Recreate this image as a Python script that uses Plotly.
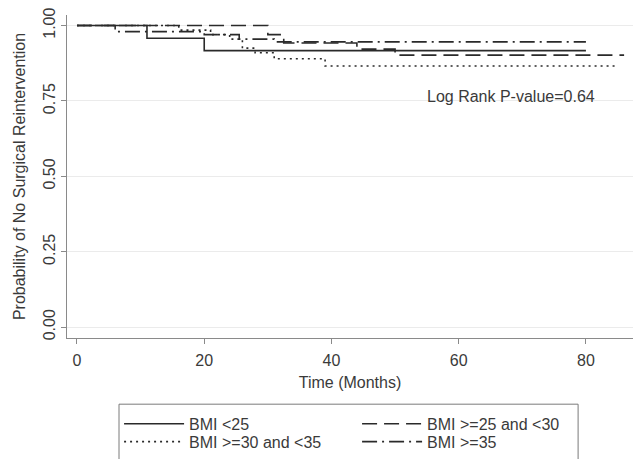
import plotly.graph_objects as go

# ---- data ----
series_names = ["BMI <25", "BMI >=25 and <30", "BMI >=30 and <35", "BMI >=35"]

t_lt25 = [0, 11, 20, 80]
s_lt25 = [1.0, 0.958, 0.917, 0.917]

t_25_30 = [0, 30, 32.5, 44, 50, 86]
s_25_30 = [1.0, 0.97, 0.942, 0.922, 0.902, 0.902]

t_30_35 = [0, 16, 21, 24, 26, 28, 31, 39, 85]
s_30_35 = [1.0, 0.985, 0.97, 0.955, 0.925, 0.91, 0.89, 0.866, 0.866]

t_ge35 = [0, 6, 20, 25.5, 31, 80]
s_ge35 = [1.0, 0.98, 0.97, 0.955, 0.946, 0.946]

x_ticks = [0, 20, 40, 60, 80]
y_ticks = [0.0, 0.25, 0.5, 0.75, 1.0]
y_tick_text = ["0.00", "0.25", "0.50", "0.75", "1.00"]

annot_text = "Log Rank P-value=0.64"
annot_x, annot_y = 68.2, 0.766

# ---- styling ----
FONT = "Liberation Sans, Arial, sans-serif"
TXT = "#3a3a3a"
LINE = "#2a2a2a"
AX = "#8a8a8a"
FS = 16

dash_styles = ["solid", "15px,7px", "2px,4px", "15px,5px,2px,5px"]
legend_ids = ["legend", "legend", "legend2", "legend2"]
times = [t_lt25, t_25_30, t_30_35, t_ge35]
survs = [s_lt25, s_25_30, s_30_35, s_ge35]

fig = go.Figure()
for name, t, s, d, lg in zip(series_names, times, survs, dash_styles, legend_ids):
    fig.add_trace(go.Scatter(
        x=t, y=s, mode="lines", name=name, legend=lg,
        line=dict(shape="hv", color=LINE, width=1.6, dash=d),
    ))

fig.add_annotation(x=annot_x, y=annot_y, text=annot_text, showarrow=False,
                   xanchor="center", yanchor="middle",
                   font=dict(family=FONT, size=FS, color=TXT))

# legend frame (extends past the bottom edge, as in the source image)
fig.add_shape(type="rect", xref="paper", yref="paper",
              x0=0.0919, x1=0.903, y0=-0.2049, y1=-0.42,
              line=dict(color="#7a7a7a", width=1), fillcolor="rgba(0,0,0,0)")

legend_common = dict(
    orientation="h", x=0.092, xanchor="left", yanchor="middle",
    entrywidth=163, entrywidthmode="pixels", itemwidth=60,
    borderwidth=0, bgcolor="rgba(0,0,0,0)",
    font=dict(family=FONT, size=FS, color=TXT),
)

fig.update_layout(
    width=633, height=459,
    margin=dict(l=67, r=0, t=15, b=117),
    paper_bgcolor="white", plot_bgcolor="white",
    font=dict(family=FONT, size=FS, color=TXT),
    showlegend=True,
    legend=dict(y=-0.266, **legend_common),
    legend2=dict(y=-0.321, **legend_common),
    xaxis=dict(
        range=[-1.57, 87.4], tickvals=x_ticks, ticks="outside", ticklen=5,
        tickcolor=AX, showline=True, linecolor=AX, linewidth=1,
        showgrid=False, zeroline=False, ticklabelstandoff=3, automargin=False,
        title=dict(text="Time (Months)", standoff=8, font=dict(size=FS)),
        tickfont=dict(size=FS),
    ),
    yaxis=dict(
        range=[-0.036, 1.035], tickvals=y_ticks, ticktext=y_tick_text,
        tickangle=-90, ticks="outside", ticklen=5, tickcolor=AX,
        showline=True, linecolor=AX, linewidth=1, ticklabelstandoff=0,
        showgrid=True, gridcolor="#ebebeb", gridwidth=1, zeroline=False,
        automargin=False,
        title=dict(text="Probability of No Surgical Reintervention", standoff=10,
                   font=dict(size=FS)),
        tickfont=dict(size=FS),
    ),
)

fig.write_html("out.html",
               config={"displayModeBar": False},
               post_script="document.body.style.margin='0px';"
                           "document.body.style.overflow='hidden';")
